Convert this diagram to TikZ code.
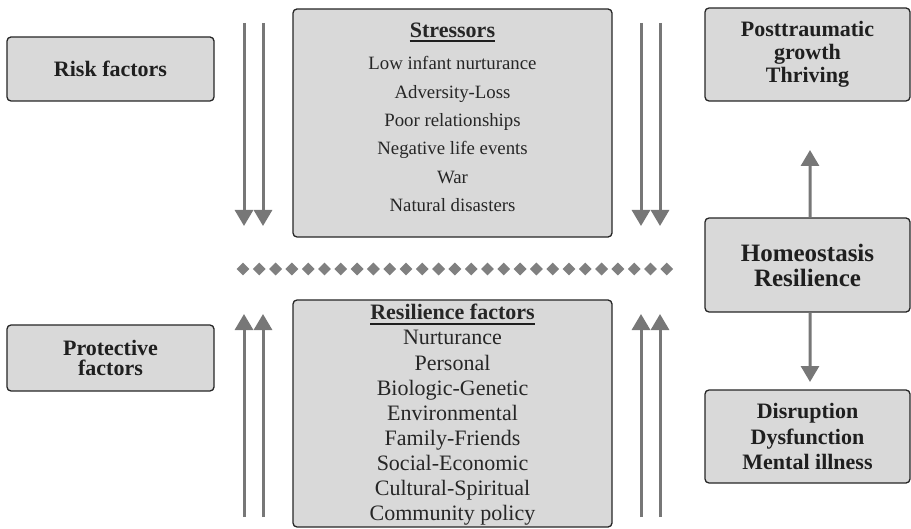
\documentclass[tikz,border=0pt]{standalone}
\usepackage{fontspec}
\setmainfont{Liberation Serif}
\usetikzlibrary{arrows.meta,shapes.geometric}
\definecolor{boxfill}{HTML}{D9D9D9}
\definecolor{boxline}{HTML}{262626}
\definecolor{arr}{HTML}{777777}
\definecolor{dia}{HTML}{808080}
\begin{document}
\begin{tikzpicture}[x=1bp,y=-1bp,
  box/.style={draw=boxline, fill=boxfill, line width=1.3bp, rounded corners=4bp,
    inner sep=0pt, align=center, text=black!88},
  bigtext/.style={font=\fontsize{22bp}{#1}\selectfont\bfseries},
  arrowline/.style={draw=arr, line width=3bp, -{Triangle[width=18bp,length=16bp]}},
  itemtext/.style={anchor=base, inner sep=0pt, text=black!85},
  dmark/.style={diamond, fill=dia, inner sep=0pt, minimum width=13bp, minimum height=13bp}
]
\useasboundingbox (0,0) rectangle (911,529);

% side boxes
\node[box, bigtext=23bp, minimum width=207bp, minimum height=64bp] (risk) at (110.5,69) {Risk factors};
\node[box, bigtext=20bp, minimum width=207bp, minimum height=66bp] (prot) at (110.5,358) {Protective\\factors};

% right boxes
\node[box, bigtext=23bp, minimum width=205bp, minimum height=93bp] (post) at (807.5,54.5) {Posttraumatic\\growth\\Thriving};
\node[box, font=\fontsize{25bp}{25bp}\selectfont\bfseries, minimum width=205bp, minimum height=94bp] (homeo) at (807.5,265) {Homeostasis\\Resilience};
\node[box, bigtext=25.5bp, minimum width=205bp, minimum height=93bp] (disr) at (807.5,436.5) {Disruption\\Dysfunction\\Mental illness};

% stressors
\node[box, minimum width=319bp, minimum height=228bp] (stress) at (452.5,123) {};
\node[itemtext, font=\fontsize{22bp}{22bp}\selectfont\bfseries] (stitle) at (452.5,37.7) {Stressors};
\draw[line width=1.8bp, black!88] ([yshift=-3.6bp]stitle.base west) -- ([yshift=-3.6bp]stitle.base east);
\foreach \t [count=\i] in {Low infant nurturance, Adversity-Loss, Poor relationships, Negative life events, War, Natural disasters}
  \node[itemtext, font=\fontsize{18.8bp}{18.8bp}\selectfont] (s\i) at (452.5,{70+28.3*(\i-1)}) {\t};

% resilience factors
\node[box, minimum width=319bp, minimum height=227bp] (resil) at (452.5,413.5) {};
\node[itemtext, font=\fontsize{22bp}{22bp}\selectfont\bfseries] (rtitle) at (452.5,320) {Resilience factors};
\draw[line width=1.8bp, black!88] ([yshift=-4bp]rtitle.base west) -- ([yshift=-4bp]rtitle.base east);
\foreach \t [count=\i] in {Nurturance, Personal, Biologic-Genetic, Environmental, Family-Friends, Social-Economic, Cultural-Spiritual, Community policy}
  \node[itemtext, font=\fontsize{22bp}{22bp}\selectfont] (r\i) at (452.5,{345+25*(\i-1)}) {\t};

% vertical arrows
\foreach \x [count=\i] in {244,263,641,660} {
  \coordinate (dt\i) at (\x,23);
  \coordinate (db\i) at (\x,226);
  \coordinate (ut\i) at (\x,314);
  \coordinate (ub\i) at (\x,517);
  \draw[arrowline] (dt\i) -- (db\i);
  \draw[arrowline] (ub\i) -- (ut\i);
}

% right arrows
\coordinate (uptip) at (810,150);
\coordinate (downtip) at (810,382);
\draw[arrowline] ([xshift=2.5bp]homeo.north) -- (uptip);
\draw[arrowline] ([xshift=2.5bp]homeo.south) -- (downtip);

% diamonds
\foreach \i in {0,...,26}
  \node[dmark] (d\i) at ({243+16.3*\i},269) {};
\end{tikzpicture}
\end{document}
